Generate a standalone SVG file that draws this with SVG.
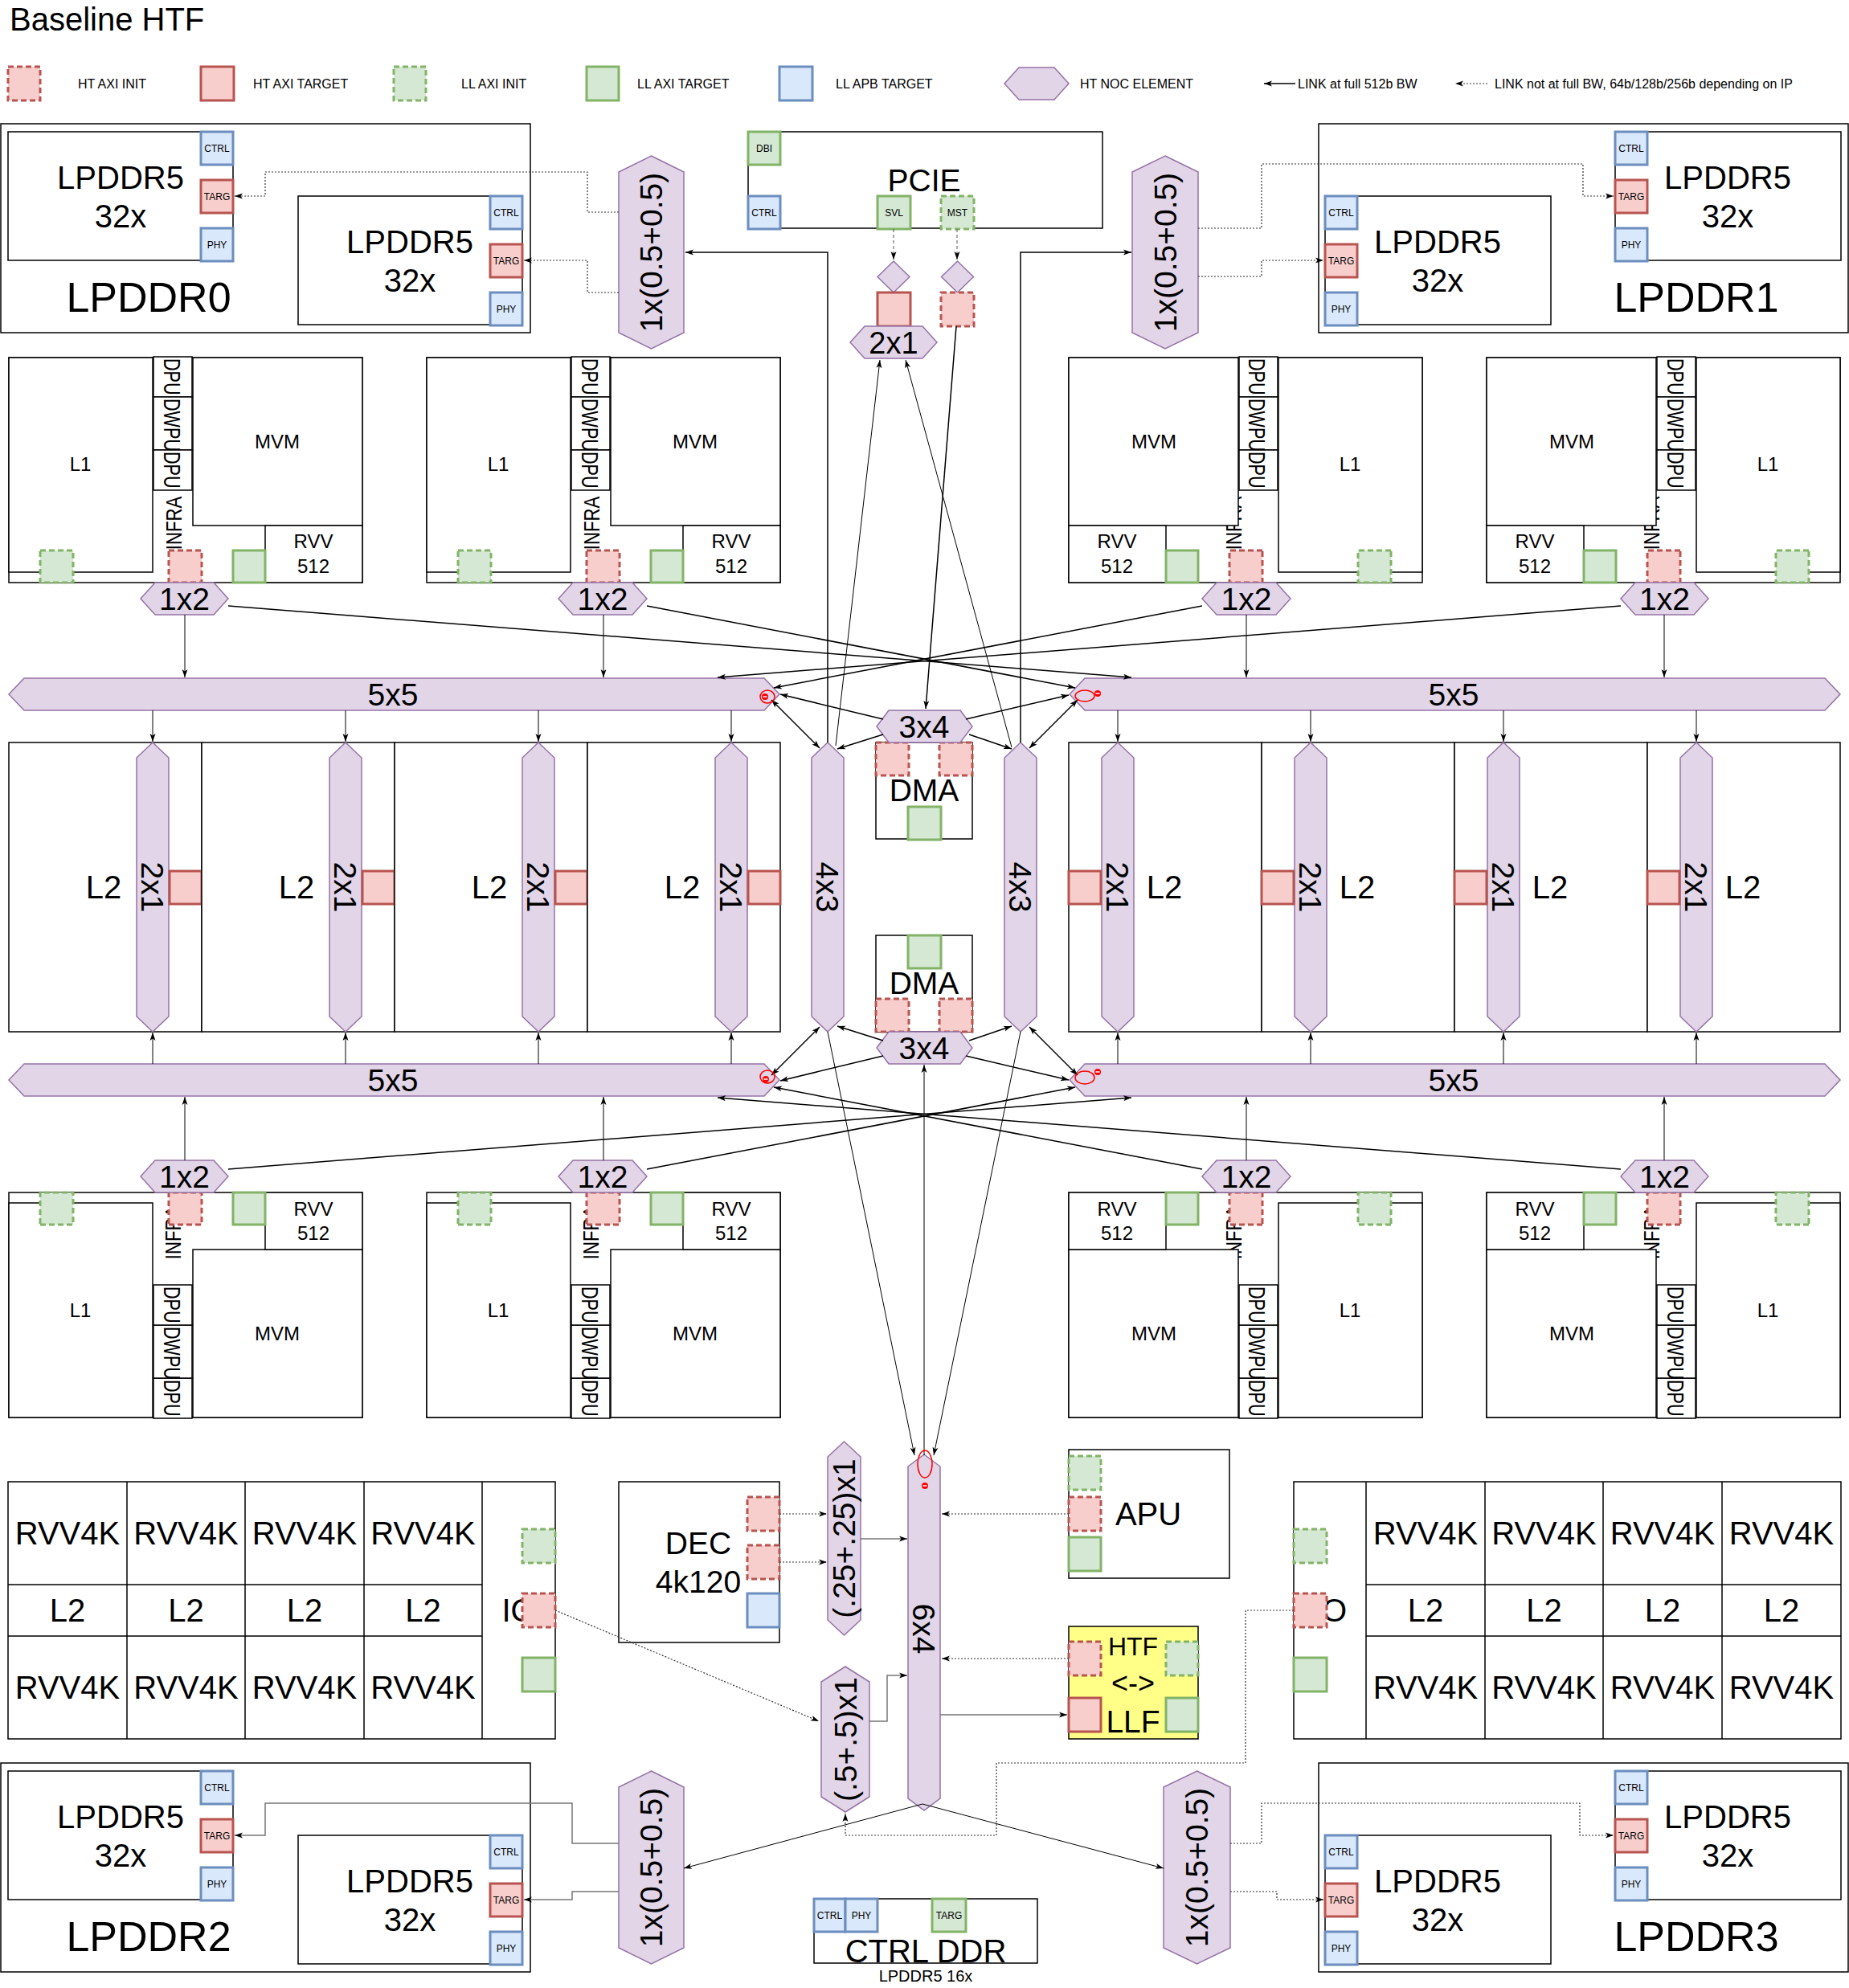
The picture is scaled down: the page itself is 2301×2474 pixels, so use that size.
<svg xmlns="http://www.w3.org/2000/svg" width="2301" height="2474" viewBox="0 0 2301 2474">
<style>
.bx{fill:#fff;stroke:#000;stroke-width:1.5}
.hti{fill:#f8cecc;stroke:#b85450;stroke-width:3;stroke-dasharray:7 4}
.htt{fill:#f8cecc;stroke:#b85450;stroke-width:3}
.lli{fill:#d5e8d4;stroke:#82b366;stroke-width:3;stroke-dasharray:7 4}
.llt{fill:#d5e8d4;stroke:#82b366;stroke-width:3}
.apb{fill:#dae8fc;stroke:#6c8ebf;stroke-width:3}
.noc{fill:#e1d5e7;stroke:#9673a6;stroke-width:1.5}
.yel{fill:#ffff88;stroke:#000;stroke-width:1.5}
text{font-family:"Liberation Sans",Arial,Helvetica,sans-serif;fill:#000}
.m{text-anchor:middle}
.f12{font-size:12px}
.f16{font-size:16px}
.f20{font-size:20px}
.f24{font-size:24px}
.f32{font-size:32px}
.f36{font-size:36px}
.f38{font-size:38px}
.f39{font-size:39px}
.f40{font-size:40px}
.f52{font-size:52px}
.dpu{font-size:30px}
.inf{font-size:27px}
.ln{fill:none;stroke:#000;stroke-width:1.5}
.th{fill:none;stroke:#000;stroke-width:1}
.dt{fill:none;stroke:#333;stroke-width:1.2;stroke-dasharray:2 2}
.ds{fill:none;stroke:#555;stroke-width:1;stroke-dasharray:4 3}
.gy{fill:none;stroke:#777;stroke-width:1.5}
.gl{fill:none;stroke:#000;stroke-width:1.5}
.rl{fill:none;stroke:#f00;stroke-width:1.5}
</style>
<defs>
<marker id="ah" viewBox="0 0 10 10" refX="10" refY="5" markerWidth="10" markerHeight="10" markerUnits="userSpaceOnUse" orient="auto-start-reverse"><path d="M0,1.5 L10,5 L0,8.5 L2.5,5 z" fill="#000"/></marker>
<g id="clo"><rect class="bx" x="11" y="445" width="440" height="280"/></g>
<g id="cli">
<rect class="bx" x="11" y="445" width="179" height="267"/>
<rect class="bx" x="191" y="444" width="48" height="50"/>
<rect class="bx" x="191" y="494" width="48" height="66"/>
<rect class="bx" x="191" y="560" width="48" height="50"/>
<rect class="bx" x="240" y="445" width="211" height="209"/>
<rect class="bx" x="330" y="654" width="121" height="71"/>
<rect class="lli" x="50" y="685" width="41" height="40"/>
<rect class="hti" x="210" y="685" width="41" height="40"/>
<rect class="llt" x="290" y="685" width="40" height="40"/>
</g>
<g id="lp0b">
<rect class="bx" x="1" y="154" width="659" height="260"/>
<rect class="bx" x="10" y="164" width="280" height="160"/>
<rect class="apb" x="250" y="164" width="40" height="41"/>
<rect class="htt" x="250" y="224" width="40" height="41"/>
<rect class="apb" x="250" y="284" width="40" height="41"/>
<text class="f12 m" x="270" y="189">CTRL</text>
<text class="f12 m" x="270" y="249">TARG</text>
<text class="f12 m" x="270" y="309">PHY</text>
<text class="f40 m" x="150" y="235">LPDDR5</text>
<text class="f40 m" x="150" y="283">32x</text>
<rect class="bx" x="371" y="244" width="279" height="160"/>
<rect class="apb" x="610" y="244" width="40" height="41"/>
<rect class="htt" x="610" y="304" width="40" height="41"/>
<rect class="apb" x="610" y="364" width="40" height="41"/>
<text class="f12 m" x="630" y="269">CTRL</text>
<text class="f12 m" x="630" y="329">TARG</text>
<text class="f12 m" x="630" y="389">PHY</text>
<text class="f40 m" x="510" y="315">LPDDR5</text>
<text class="f40 m" x="510" y="363">32x</text>
</g>
<g id="lp1b">
<rect class="bx" x="1641" y="154" width="659" height="260"/>
<rect class="bx" x="2010" y="164" width="281" height="160"/>
<rect class="apb" x="2010" y="164" width="40" height="41"/>
<rect class="htt" x="2010" y="224" width="40" height="41"/>
<rect class="apb" x="2010" y="284" width="40" height="41"/>
<text class="f12 m" x="2030" y="189">CTRL</text>
<text class="f12 m" x="2030" y="249">TARG</text>
<text class="f12 m" x="2030" y="309">PHY</text>
<text class="f40 m" x="2150" y="235">LPDDR5</text>
<text class="f40 m" x="2150" y="283">32x</text>
<rect class="bx" x="1649" y="244" width="281" height="160"/>
<rect class="apb" x="1649" y="244" width="40" height="41"/>
<rect class="htt" x="1649" y="304" width="40" height="41"/>
<rect class="apb" x="1649" y="364" width="40" height="41"/>
<text class="f12 m" x="1669" y="269">CTRL</text>
<text class="f12 m" x="1669" y="329">TARG</text>
<text class="f12 m" x="1669" y="389">PHY</text>
<text class="f40 m" x="1789" y="315">LPDDR5</text>
<text class="f40 m" x="1789" y="363">32x</text>
</g>
</defs>

<rect x="0" y="0" width="2301" height="2474" fill="#fff"/>

<g id="title"><text x="12" y="38" style="font-size:40px">Baseline HTF</text></g>

<g id="legend">
<rect class="hti" x="10" y="83" width="40" height="42"/>
<text class="f16" x="97" y="110">HT AXI INIT</text>
<rect class="htt" x="250" y="83" width="41" height="42"/>
<text class="f16" x="315" y="110">HT AXI TARGET</text>
<rect class="lli" x="490" y="83" width="40" height="42"/>
<text class="f16" x="574" y="110">LL AXI INIT</text>
<rect class="llt" x="730" y="83" width="40" height="42"/>
<text class="f16" x="793" y="110">LL AXI TARGET</text>
<rect class="apb" x="970" y="83" width="41" height="42"/>
<text class="f16" x="1040" y="110">LL APB TARGET</text>
<polygon class="noc" points="1250,104 1268,84 1312,84 1330,104 1312,124 1268,124"/>
<text class="f16" x="1344" y="110">HT NOC ELEMENT</text>
<path class="ln" d="M1612,104 H1573" marker-end="url(#ah)"/>
<text class="f16" x="1615" y="110">LINK at full 512b BW</text>
<path class="dt" d="M1851,104 H1811" marker-end="url(#ah)"/>
<text class="f16" x="1860" y="110">LINK not at full BW, 64b/128b/256b depending on IP</text>
</g>

<g id="lpddr0"><use href="#lp0b"/><text class="f52 m" x="185" y="388">LPDDR0</text></g>
<g id="lpddr1"><use href="#lp1b"/><text class="f52 m" x="2111" y="388">LPDDR1</text></g>
<g id="lpddr2"><use href="#lp0b" transform="translate(0,2040)"/><text class="f52 m" x="185" y="2428">LPDDR2</text></g>
<g id="lpddr3"><use href="#lp1b" transform="translate(0,2040)"/><text class="f52 m" x="2111" y="2428">LPDDR3</text></g>

<g id="pcie">
<rect class="bx" x="931" y="164" width="441" height="120"/>
<rect class="llt" x="931" y="164" width="40" height="41"/>
<text class="f12 m" x="951" y="189">DBI</text>
<rect class="apb" x="931" y="244" width="40" height="41"/>
<text class="f12 m" x="951" y="269">CTRL</text>
<rect class="llt" x="1092" y="244" width="41" height="41"/>
<text class="f12 m" x="1112.5" y="269">SVL</text>
<rect class="lli" x="1171" y="244" width="41" height="41"/>
<text class="f12 m" x="1191.5" y="269">MST</text>
<text class="f39 m" x="1150" y="238">PCIE</text>
</g>
<g id="pcie-svl-bridge">
<polygon class="noc" points="1112,325 1132,344.5 1112,364 1092,344.5"/>
<rect class="htt" x="1092" y="364" width="41" height="42"/>
</g>
<g id="pcie-mst-bridge">
<polygon class="noc" points="1191.5,325 1211.5,344.5 1191.5,364 1171.5,344.5"/>
<rect class="hti" x="1171" y="364" width="41" height="42"/>
</g>
<g id="noc-pcie-2x1">
<polygon class="noc" points="1058,426 1076,406 1148,406 1166,426 1148,446 1076,446"/>
<text class="f38 m" x="1112" y="440">2x1</text>
</g>

<g id="noc-lp0"><polygon class="noc" points="810.5,194 851,214 851,414 810.5,434 770,414 770,214"/><text class="f39 m" transform="translate(810.5,314) rotate(-90)" dy="0.35em">1x(0.5+0.5)</text></g>
<g id="noc-lp1"><polygon class="noc" points="1450,194 1491,214 1491,414 1450,434 1409,414 1409,214"/><text class="f39 m" transform="translate(1450,314) rotate(-90)" dy="0.35em">1x(0.5+0.5)</text></g>
<g id="noc-lp2"><polygon class="noc" points="810.5,2204 851,2224 851,2424 810.5,2444 770,2424 770,2224"/><text class="f39 m" transform="translate(810.5,2324) rotate(-90)" dy="0.35em">1x(0.5+0.5)</text></g>
<g id="noc-lp3"><polygon class="noc" points="1489.5,2204 1531,2224 1531,2424 1489.5,2444 1448,2424 1448,2224"/><text class="f39 m" transform="translate(1489.5,2324) rotate(-90)" dy="0.35em">1x(0.5+0.5)</text></g>

<!-- clusters -->
<g id="cluster1"><use href="#clo"/><text class="inf m" transform="translate(217,651) rotate(-90) scale(0.82,1)" dy="0.35em">INFRA</text><use href="#cli"/>
<text class="f24 m" x="100" y="586">L1</text><text class="f24 m" x="345" y="558">MVM</text><text class="f24 m" x="390" y="682">RVV</text><text class="f24 m" x="390" y="713">512</text>
<text class="dpu" transform="translate(215,446) rotate(90) scale(0.72,1)" dy="0.35em">DPU</text><text class="dpu" transform="translate(215,496) rotate(90) scale(0.72,1)" dy="0.35em">DWPU</text><text class="dpu" transform="translate(215,562) rotate(90) scale(0.72,1)" dy="0.35em">DPU</text></g>
<g id="cluster2"><use href="#clo" transform="translate(520,0)"/><text class="inf m" transform="translate(737,651) rotate(-90) scale(0.82,1)" dy="0.35em">INFRA</text><use href="#cli" transform="translate(520,0)"/>
<text class="f24 m" x="620" y="586">L1</text><text class="f24 m" x="865" y="558">MVM</text><text class="f24 m" x="910" y="682">RVV</text><text class="f24 m" x="910" y="713">512</text>
<text class="dpu" transform="translate(735,446) rotate(90) scale(0.72,1)" dy="0.35em">DPU</text><text class="dpu" transform="translate(735,496) rotate(90) scale(0.72,1)" dy="0.35em">DWPU</text><text class="dpu" transform="translate(735,562) rotate(90) scale(0.72,1)" dy="0.35em">DPU</text></g>
<g id="cluster3"><use href="#clo" transform="translate(1781,0) scale(-1,1)"/><text class="inf m" transform="translate(1536,651) rotate(-90) scale(0.82,1)" dy="0.35em">INFRA</text><use href="#cli" transform="translate(1781,0) scale(-1,1)"/>
<text class="f24 m" x="1680" y="586">L1</text><text class="f24 m" x="1436" y="558">MVM</text><text class="f24 m" x="1390" y="682">RVV</text><text class="f24 m" x="1390" y="713">512</text>
<text class="dpu" transform="translate(1565,446) rotate(90) scale(0.72,1)" dy="0.35em">DPU</text><text class="dpu" transform="translate(1565,496) rotate(90) scale(0.72,1)" dy="0.35em">DWPU</text><text class="dpu" transform="translate(1565,562) rotate(90) scale(0.72,1)" dy="0.35em">DPU</text></g>
<g id="cluster4"><use href="#clo" transform="translate(2301,0) scale(-1,1)"/><text class="inf m" transform="translate(2056,651) rotate(-90) scale(0.82,1)" dy="0.35em">INFRA</text><use href="#cli" transform="translate(2301,0) scale(-1,1)"/>
<text class="f24 m" x="2200" y="586">L1</text><text class="f24 m" x="1956" y="558">MVM</text><text class="f24 m" x="1910" y="682">RVV</text><text class="f24 m" x="1910" y="713">512</text>
<text class="dpu" transform="translate(2086,446) rotate(90) scale(0.72,1)" dy="0.35em">DPU</text><text class="dpu" transform="translate(2086,496) rotate(90) scale(0.72,1)" dy="0.35em">DWPU</text><text class="dpu" transform="translate(2086,562) rotate(90) scale(0.72,1)" dy="0.35em">DPU</text></g>
<g id="cluster5"><use href="#clo" transform="translate(0,2209) scale(1,-1)"/><text class="inf m" transform="translate(216,1534) rotate(-90) scale(0.82,1)" dy="0.35em">INFRA</text><use href="#cli" transform="translate(0,2209) scale(1,-1)"/>
<text class="f24 m" x="100" y="1639">L1</text><text class="f24 m" x="345" y="1668">MVM</text><text class="f24 m" x="390" y="1513">RVV</text><text class="f24 m" x="390" y="1543">512</text>
<text class="dpu" transform="translate(215,1601) rotate(90) scale(0.72,1)" dy="0.35em">DPU</text><text class="dpu" transform="translate(215,1651) rotate(90) scale(0.72,1)" dy="0.35em">DWPU</text><text class="dpu" transform="translate(215,1717) rotate(90) scale(0.72,1)" dy="0.35em">DPU</text></g>
<g id="cluster6"><use href="#clo" transform="translate(520,2209) scale(1,-1)"/><text class="inf m" transform="translate(736,1534) rotate(-90) scale(0.82,1)" dy="0.35em">INFRA</text><use href="#cli" transform="translate(520,2209) scale(1,-1)"/>
<text class="f24 m" x="620" y="1639">L1</text><text class="f24 m" x="865" y="1668">MVM</text><text class="f24 m" x="910" y="1513">RVV</text><text class="f24 m" x="910" y="1543">512</text>
<text class="dpu" transform="translate(735,1601) rotate(90) scale(0.72,1)" dy="0.35em">DPU</text><text class="dpu" transform="translate(735,1651) rotate(90) scale(0.72,1)" dy="0.35em">DWPU</text><text class="dpu" transform="translate(735,1717) rotate(90) scale(0.72,1)" dy="0.35em">DPU</text></g>
<g id="cluster7"><use href="#clo" transform="translate(1781,2209) scale(-1,-1)"/><text class="inf m" transform="translate(1536,1534) rotate(-90) scale(0.82,1)" dy="0.35em">INFRA</text><use href="#cli" transform="translate(1781,2209) scale(-1,-1)"/>
<text class="f24 m" x="1680" y="1639">L1</text><text class="f24 m" x="1436" y="1668">MVM</text><text class="f24 m" x="1390" y="1513">RVV</text><text class="f24 m" x="1390" y="1543">512</text>
<text class="dpu" transform="translate(1565,1601) rotate(90) scale(0.72,1)" dy="0.35em">DPU</text><text class="dpu" transform="translate(1565,1651) rotate(90) scale(0.72,1)" dy="0.35em">DWPU</text><text class="dpu" transform="translate(1565,1717) rotate(90) scale(0.72,1)" dy="0.35em">DPU</text></g>
<g id="cluster8"><use href="#clo" transform="translate(2301,2209) scale(-1,-1)"/><text class="inf m" transform="translate(2056,1534) rotate(-90) scale(0.82,1)" dy="0.35em">INFRA</text><use href="#cli" transform="translate(2301,2209) scale(-1,-1)"/>
<text class="f24 m" x="2200" y="1639">L1</text><text class="f24 m" x="1956" y="1668">MVM</text><text class="f24 m" x="1910" y="1513">RVV</text><text class="f24 m" x="1910" y="1543">512</text>
<text class="dpu" transform="translate(2086,1601) rotate(90) scale(0.72,1)" dy="0.35em">DPU</text><text class="dpu" transform="translate(2086,1651) rotate(90) scale(0.72,1)" dy="0.35em">DWPU</text><text class="dpu" transform="translate(2086,1717) rotate(90) scale(0.72,1)" dy="0.35em">DPU</text></g>

<!-- 1x2 NoC -->
<g id="noc-1x2-c1"><polygon class="noc" points="175,745 193,725 266,725 284,745 266,765 193,765"/><text class="f39 m" x="229.5" y="759">1x2</text></g>
<g id="noc-1x2-c2"><polygon class="noc" points="695,745 713,725 787,725 805,745 787,765 713,765"/><text class="f39 m" x="750" y="759">1x2</text></g>
<g id="noc-1x2-c3"><polygon class="noc" points="1496,745 1514,725 1588,725 1606,745 1588,765 1514,765"/><text class="f39 m" x="1551" y="759">1x2</text></g>
<g id="noc-1x2-c4"><polygon class="noc" points="2017,745 2035,725 2108,725 2126,745 2108,765 2035,765"/><text class="f39 m" x="2071.5" y="759">1x2</text></g>
<g id="noc-1x2-c5"><polygon class="noc" points="175,1464 193,1444 266,1444 284,1464 266,1484 193,1484"/><text class="f39 m" x="229.5" y="1478">1x2</text></g>
<g id="noc-1x2-c6"><polygon class="noc" points="695,1464 713,1444 787,1444 805,1464 787,1484 713,1484"/><text class="f39 m" x="750" y="1478">1x2</text></g>
<g id="noc-1x2-c7"><polygon class="noc" points="1496,1464 1514,1444 1588,1444 1606,1464 1588,1484 1514,1484"/><text class="f39 m" x="1551" y="1478">1x2</text></g>
<g id="noc-1x2-c8"><polygon class="noc" points="2017,1464 2035,1444 2108,1444 2126,1464 2108,1484 2035,1484"/><text class="f39 m" x="2071.5" y="1478">1x2</text></g>

<!-- 5x5 -->
<g id="noc-5x5-tl"><polygon class="noc" points="11,864 30,844 951,844 970,864 951,884 30,884"/><text class="f39 m" x="489" y="878">5x5</text></g>
<g id="noc-5x5-tr"><polygon class="noc" points="1331,864 1350,844 2271,844 2290,864 2271,884 1350,884"/><text class="f39 m" x="1809" y="878">5x5</text></g>
<g id="noc-5x5-bl"><polygon class="noc" points="11,1344 30,1324 951,1324 970,1344 951,1364 30,1364"/><text class="f39 m" x="489" y="1358">5x5</text></g>
<g id="noc-5x5-br"><polygon class="noc" points="1331,1344 1350,1324 2271,1324 2290,1344 2271,1364 1350,1364"/><text class="f39 m" x="1809" y="1358">5x5</text></g>

<!-- L2 row -->
<g id="l2-1"><rect class="bx" x="11" y="924" width="240" height="360"/><text class="f40 m" x="129" y="1118">L2</text><polygon class="noc" points="190,924 210,943 210,1265 190,1284 170,1265 170,943"/><text class="f39 m" transform="translate(190,1104) rotate(90)" dy="0.35em">2x1</text><rect class="htt" x="211" y="1084" width="40" height="41"/></g>
<g id="l2-2"><rect class="bx" x="251" y="924" width="240" height="360"/><text class="f40 m" x="369" y="1118">L2</text><polygon class="noc" points="430,924 450,943 450,1265 430,1284 410,1265 410,943"/><text class="f39 m" transform="translate(430,1104) rotate(90)" dy="0.35em">2x1</text><rect class="htt" x="451" y="1084" width="40" height="41"/></g>
<g id="l2-3"><rect class="bx" x="491" y="924" width="240" height="360"/><text class="f40 m" x="609" y="1118">L2</text><polygon class="noc" points="670,924 690,943 690,1265 670,1284 650,1265 650,943"/><text class="f39 m" transform="translate(670,1104) rotate(90)" dy="0.35em">2x1</text><rect class="htt" x="691" y="1084" width="40" height="41"/></g>
<g id="l2-4"><rect class="bx" x="731" y="924" width="240" height="360"/><text class="f40 m" x="849" y="1118">L2</text><polygon class="noc" points="910,924 930,943 930,1265 910,1284 890,1265 890,943"/><text class="f39 m" transform="translate(910,1104) rotate(90)" dy="0.35em">2x1</text><rect class="htt" x="931" y="1084" width="40" height="41"/></g>
<g id="l2-5"><rect class="bx" x="1330" y="924" width="240" height="360"/><text class="f40 m" x="1449" y="1118">L2</text><polygon class="noc" points="1391,924 1411,943 1411,1265 1391,1284 1371,1265 1371,943"/><text class="f39 m" transform="translate(1391,1104) rotate(90)" dy="0.35em">2x1</text><rect class="htt" x="1330" y="1084" width="40" height="41"/></g>
<g id="l2-6"><rect class="bx" x="1570" y="924" width="240" height="360"/><text class="f40 m" x="1689" y="1118">L2</text><polygon class="noc" points="1631,924 1651,943 1651,1265 1631,1284 1611,1265 1611,943"/><text class="f39 m" transform="translate(1631,1104) rotate(90)" dy="0.35em">2x1</text><rect class="htt" x="1570" y="1084" width="40" height="41"/></g>
<g id="l2-7"><rect class="bx" x="1810" y="924" width="240" height="360"/><text class="f40 m" x="1929" y="1118">L2</text><polygon class="noc" points="1871,924 1891,943 1891,1265 1871,1284 1851,1265 1851,943"/><text class="f39 m" transform="translate(1871,1104) rotate(90)" dy="0.35em">2x1</text><rect class="htt" x="1810" y="1084" width="40" height="41"/></g>
<g id="l2-8"><rect class="bx" x="2050" y="924" width="240" height="360"/><text class="f40 m" x="2169" y="1118">L2</text><polygon class="noc" points="2111,924 2131,943 2131,1265 2111,1284 2091,1265 2091,943"/><text class="f39 m" transform="translate(2111,1104) rotate(90)" dy="0.35em">2x1</text><rect class="htt" x="2050" y="1084" width="40" height="41"/></g>

<g id="noc-4x3-l"><polygon class="noc" points="1030,924 1050,943 1050,1265 1030,1284 1010,1265 1010,943"/><text class="f39 m" transform="translate(1030,1104) rotate(90)" dy="0.35em">4x3</text></g>
<g id="noc-4x3-r"><polygon class="noc" points="1270,924 1290,943 1290,1265 1270,1284 1250,1265 1250,943"/><text class="f39 m" transform="translate(1270,1104) rotate(90)" dy="0.35em">4x3</text></g>

<g id="dma-top"><rect class="bx" x="1090" y="924" width="120" height="120"/><rect class="hti" x="1090" y="924" width="41" height="41"/><rect class="hti" x="1169" y="924" width="41" height="41"/><text class="f39 m" x="1150" y="997">DMA</text><rect class="llt" x="1130" y="1004" width="41" height="41"/></g>
<g id="dma-bot"><rect class="bx" x="1090" y="1164" width="120" height="120"/><rect class="llt" x="1130" y="1164" width="41" height="41"/><text class="f39 m" x="1150" y="1237">DMA</text><rect class="hti" x="1090" y="1243" width="41" height="41"/><rect class="hti" x="1169" y="1243" width="41" height="41"/></g>
<g id="noc-3x4-top"><polygon class="noc" points="1091,904 1106,884 1195,884 1210,904 1195,924 1106,924"/><text class="f39 m" x="1150" y="918">3x4</text></g>
<g id="noc-3x4-bot"><polygon class="noc" points="1091,1304 1106,1284 1195,1284 1210,1304 1195,1324 1106,1324"/><text class="f39 m" x="1150" y="1318">3x4</text></g>

<!-- bottom section -->
<g id="rvv4k-left">
<rect class="bx" x="10" y="1844" width="681" height="320"/>
<path class="gl" d="M158,1844 V2164 M305,1844 V2164 M453,1844 V2164 M600,1844 V2164 M10,1972 H600 M10,2036 H600"/>
<text class="f40 m" x="84" y="1922">RVV4K</text><text class="f40 m" x="231.5" y="1922">RVV4K</text><text class="f40 m" x="379" y="1922">RVV4K</text><text class="f40 m" x="526.5" y="1922">RVV4K</text>
<text class="f40 m" x="84" y="2018">L2</text><text class="f40 m" x="231.5" y="2018">L2</text><text class="f40 m" x="379" y="2018">L2</text><text class="f40 m" x="526.5" y="2018">L2</text>
<text class="f40 m" x="84" y="2114">RVV4K</text><text class="f40 m" x="231.5" y="2114">RVV4K</text><text class="f40 m" x="379" y="2114">RVV4K</text><text class="f40 m" x="526.5" y="2114">RVV4K</text>
<text class="f40 m" x="645.5" y="2018">IO</text>
<rect class="lli" x="650" y="1903" width="41" height="42"/><rect class="hti" x="650" y="1983" width="41" height="42"/><rect class="llt" x="650" y="2063" width="41" height="42"/>
</g>
<g id="rvv4k-right">
<rect class="bx" x="1610" y="1844" width="681" height="320"/>
<path class="gl" d="M1700,1844 V2164 M1848,1844 V2164 M1995,1844 V2164 M2143,1844 V2164 M1700,1972 H2291 M1700,2036 H2291"/>
<text class="f40 m" x="1774" y="1922">RVV4K</text><text class="f40 m" x="1921.5" y="1922">RVV4K</text><text class="f40 m" x="2069" y="1922">RVV4K</text><text class="f40 m" x="2217" y="1922">RVV4K</text>
<text class="f40 m" x="1774" y="2018">L2</text><text class="f40 m" x="1921.5" y="2018">L2</text><text class="f40 m" x="2069" y="2018">L2</text><text class="f40 m" x="2217" y="2018">L2</text>
<text class="f40 m" x="1774" y="2114">RVV4K</text><text class="f40 m" x="1921.5" y="2114">RVV4K</text><text class="f40 m" x="2069" y="2114">RVV4K</text><text class="f40 m" x="2217" y="2114">RVV4K</text>
<text class="f40 m" x="1655" y="2018">IO</text>
<rect class="lli" x="1610" y="1903" width="41" height="42"/><rect class="hti" x="1610" y="1983" width="41" height="42"/><rect class="llt" x="1610" y="2063" width="41" height="42"/>
</g>
<g id="dec">
<rect class="bx" x="770" y="1844" width="200" height="200"/>
<text class="f39 m" x="869" y="1934">DEC</text><text class="f39 m" x="869" y="1982">4k120</text>
<rect class="hti" x="930" y="1863" width="40" height="42"/><rect class="hti" x="930" y="1923" width="40" height="42"/><rect class="apb" x="930" y="1983" width="40" height="42"/>
</g>
<g id="noc-dec"><polygon class="noc" points="1050.5,1794 1071,1813 1071,2016 1050.5,2035 1030,2016 1030,1813"/><text class="f39 m" transform="translate(1050.5,1914.5) rotate(-90)" dy="0.35em">(.25+.25)x1</text></g>
<g id="noc-io"><polygon class="noc" points="1052,2074 1082,2093 1082,2236 1052,2255 1022,2236 1022,2093"/><text class="f39 m" transform="translate(1052,2164.5) rotate(-90)" dy="0.35em">(.5+.5)x1</text></g>
<g id="noc-6x4"><polygon class="noc" points="1150,1810 1170,1825 1170,2238 1150,2253 1130,2238 1130,1825"/><text class="f39 m" transform="translate(1150,2027) rotate(90)" dy="0.35em">6x4</text></g>
<g id="apu">
<rect class="bx" x="1330" y="1804" width="200" height="160"/>
<rect class="lli" x="1330" y="1812" width="40" height="42"/><rect class="hti" x="1330" y="1863" width="40" height="42"/><rect class="llt" x="1330" y="1913" width="40" height="42"/>
<text class="f40 m" x="1429" y="1898">APU</text>
</g>
<g id="htf-llf">
<rect class="yel" x="1330" y="2024" width="161" height="140"/>
<rect class="hti" x="1330" y="2043" width="40" height="42"/><rect class="lli" x="1451" y="2043" width="40" height="42"/>
<rect class="htt" x="1330" y="2113" width="40" height="42"/><rect class="llt" x="1451" y="2113" width="40" height="42"/>
<text class="f32 m" x="1410" y="2060">HTF</text><text class="f36 m" x="1410" y="2107">&lt;-&gt;</text><text class="f39 m" x="1410" y="2156">LLF</text>
</g>
<g id="ctrl-ddr">
<rect class="bx" x="1013" y="2363" width="278" height="80"/>
<rect class="apb" x="1013" y="2363" width="39" height="41"/><rect class="apb" x="1052" y="2363" width="40" height="41"/><rect class="llt" x="1160" y="2363" width="42" height="41"/>
<text class="f12 m" x="1032.5" y="2388">CTRL</text><text class="f12 m" x="1072" y="2388">PHY</text><text class="f12 m" x="1181" y="2388">TARG</text>
<text class="f40 m" x="1152" y="2442">CTRL DDR</text>
<text class="f20 m" x="1152" y="2466">LPDDR5 16x</text>
</g>

<g id="connectors">
<path class="dt" d="M770,264 H731 V214 H330 V244 H292" marker-end="url(#ah)"/>
<path class="dt" d="M770,364 H731 V324 H652" marker-end="url(#ah)"/>
<path class="dt" d="M1491,284 H1570 V204 H1970 V244 H2008" marker-end="url(#ah)"/>
<path class="dt" d="M1491,344 H1570 V324 H1647" marker-end="url(#ah)"/>
<path class="gy" d="M770,2294 H712 V2244 H330 V2284 H292" marker-end="url(#ah)"/>
<path class="gy" d="M770,2354 H712 V2364 H652" marker-end="url(#ah)"/>
<path class="dt" d="M1531,2294 H1570 V2244 H1966 V2284 H2008" marker-end="url(#ah)"/>
<path class="dt" d="M1531,2354 H1589 V2364 H1647" marker-end="url(#ah)"/>
<path class="ds" d="M1112,285 V323" marker-end="url(#ah)"/>
<path class="ds" d="M1191,285 V323" marker-end="url(#ah)"/>
<path class="ln" d="M1190,406 L1152,882" marker-end="url(#ah)"/>
<path class="ln" d="M1030,924 V314 H853" marker-end="url(#ah)"/>
<path class="ln" d="M1270,924 V314 H1408" marker-end="url(#ah)"/>
<path class="th" d="M1040,928 L1095,448" marker-end="url(#ah)"/>
<path class="th" d="M1259,930 L1127,448" marker-end="url(#ah)"/>
<path class="ln" d="M284,754 L1408,843" marker-end="url(#ah)"/>
<path class="ln" d="M805,754 L1338,856" marker-end="url(#ah)"/>
<path class="ln" d="M1496,754 L963,856" marker-end="url(#ah)"/>
<path class="ln" d="M2017,754 L893,843" marker-end="url(#ah)"/>
<path class="ln" d="M1099,895 L971,864" marker-end="url(#ah)"/>
<path class="ln" d="M1202,895 L1330,865" marker-end="url(#ah)"/>
<path class="ln" d="M960,871 L1020,931" marker-start="url(#ah)" marker-end="url(#ah)"/>
<path class="ln" d="M1341,871 L1281,931" marker-start="url(#ah)" marker-end="url(#ah)"/>
<path class="ln" d="M1099,914 L1042,932" marker-end="url(#ah)"/>
<path class="ln" d="M1206,914 L1259,932" marker-end="url(#ah)"/>
<path class="th" d="M230,765 V843" marker-end="url(#ah)"/>
<path class="th" d="M751,765 V843" marker-end="url(#ah)"/>
<path class="th" d="M1551,765 V843" marker-end="url(#ah)"/>
<path class="th" d="M2071,765 V843" marker-end="url(#ah)"/>
<path class="th" d="M190,884 V923" marker-end="url(#ah)"/>
<path class="th" d="M430,884 V923" marker-end="url(#ah)"/>
<path class="th" d="M670,884 V923" marker-end="url(#ah)"/>
<path class="th" d="M910,884 V923" marker-end="url(#ah)"/>
<path class="th" d="M1391,884 V923" marker-end="url(#ah)"/>
<path class="th" d="M1631,884 V923" marker-end="url(#ah)"/>
<path class="th" d="M1871,884 V923" marker-end="url(#ah)"/>
<path class="th" d="M2111,884 V923" marker-end="url(#ah)"/>
<path class="ln" d="M284,1455 L1408,1366" marker-end="url(#ah)"/>
<path class="ln" d="M805,1455 L1338,1353" marker-end="url(#ah)"/>
<path class="ln" d="M1496,1455 L963,1353" marker-end="url(#ah)"/>
<path class="ln" d="M2017,1455 L893,1366" marker-end="url(#ah)"/>
<path class="ln" d="M1099,1314 L971,1345" marker-end="url(#ah)"/>
<path class="ln" d="M1202,1314 L1330,1344" marker-end="url(#ah)"/>
<path class="ln" d="M960,1338 L1020,1278" marker-start="url(#ah)" marker-end="url(#ah)"/>
<path class="ln" d="M1341,1338 L1281,1278" marker-start="url(#ah)" marker-end="url(#ah)"/>
<path class="ln" d="M1099,1295 L1042,1277" marker-end="url(#ah)"/>
<path class="ln" d="M1206,1295 L1259,1277" marker-end="url(#ah)"/>
<path class="th" d="M230,1444 V1365" marker-end="url(#ah)"/>
<path class="th" d="M751,1444 V1365" marker-end="url(#ah)"/>
<path class="th" d="M1551,1444 V1365" marker-end="url(#ah)"/>
<path class="th" d="M2071,1444 V1365" marker-end="url(#ah)"/>
<path class="th" d="M190,1324 V1285" marker-end="url(#ah)"/>
<path class="th" d="M430,1324 V1285" marker-end="url(#ah)"/>
<path class="th" d="M670,1324 V1285" marker-end="url(#ah)"/>
<path class="th" d="M910,1324 V1285" marker-end="url(#ah)"/>
<path class="th" d="M1391,1324 V1285" marker-end="url(#ah)"/>
<path class="th" d="M1631,1324 V1285" marker-end="url(#ah)"/>
<path class="th" d="M1871,1324 V1285" marker-end="url(#ah)"/>
<path class="th" d="M2111,1324 V1285" marker-end="url(#ah)"/>
<path class="th" d="M1030,1284 L1138,1811" marker-end="url(#ah)"/>
<path class="th" d="M1270,1284 L1162,1811" marker-end="url(#ah)"/>
<path class="th" d="M1150,1811 V1325" marker-end="url(#ah)"/>
<path class="dt" d="M970,1884 H1029" marker-end="url(#ah)"/>
<path class="dt" d="M970,1944 H1029" marker-end="url(#ah)"/>
<path class="gy" d="M1071,1915 H1129" marker-end="url(#ah)"/>
<path class="gy" d="M1082,2142 H1104 V2085 H1129" marker-end="url(#ah)"/>
<path class="dt" d="M691,2004 L1019,2142" marker-end="url(#ah)"/>
<path class="dt" d="M1330,1884 H1172" marker-end="url(#ah)"/>
<path class="dt" d="M1330,2064 H1172" marker-end="url(#ah)"/>
<path class="gy" d="M1170,2134 H1328" marker-end="url(#ah)"/>
<path class="dt" d="M1610,2004 H1550 V2194 H1240 V2284 H1052 V2257" marker-end="url(#ah)"/>
<path class="th" d="M1148,2245 L851,2325" marker-end="url(#ah)"/>
<path class="th" d="M1148,2245 L1448,2325" marker-end="url(#ah)"/>
<g id="loops">
<ellipse class="rl" cx="955" cy="867" rx="9" ry="8"/><circle cx="952" cy="867" r="4" fill="#f00"/><path d="M949.5,867 H954.5" stroke="#fff" stroke-width="1.5"/>
<ellipse class="rl" cx="1350" cy="866" rx="12" ry="7"/><circle cx="1366" cy="863" r="4" fill="#f00"/><path d="M1363.5,863 H1368.5" stroke="#fff" stroke-width="1.5"/>
<ellipse class="rl" cx="955" cy="1340" rx="9" ry="8"/><circle cx="953" cy="1343" r="4" fill="#f00"/><path d="M950.5,1343 H955.5" stroke="#fff" stroke-width="1.5"/>
<ellipse class="rl" cx="1350" cy="1341" rx="12" ry="8"/><circle cx="1366" cy="1334" r="4" fill="#f00"/><path d="M1363.5,1334 H1368.5" stroke="#fff" stroke-width="1.5"/>
<ellipse class="rl" cx="1151" cy="1822" rx="9" ry="17"/><circle cx="1151" cy="1849" r="4" fill="#f00"/><path d="M1148.5,1849 H1153.5" stroke="#fff" stroke-width="1.5"/>
</g>
</g>
</svg>
